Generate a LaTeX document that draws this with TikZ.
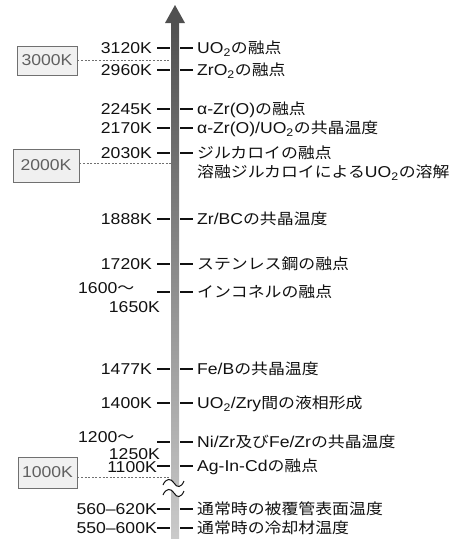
\documentclass[tikz,border=0pt]{standalone}
\usepackage{fontspec}
\usepackage{graphicx}
\setmainfont{Liberation Sans}
\newfontfamily\jp[Scale=0.96]{Noto Sans CJK JP}
\newcommand{\sx}[1]{\scalebox{1.12}[1]{#1}}
\newcommand{\J}[1]{{\jp #1}}
\definecolor{bartop}{HTML}{505050}
\definecolor{barmid}{HTML}{9A9A9A}
\definecolor{barbot}{HTML}{CACACA}
\definecolor{boxfill}{HTML}{F0F0F0}
\definecolor{boxline}{HTML}{707070}
\definecolor{boxtext}{HTML}{606060}
\definecolor{txt}{HTML}{111111}
\begin{document}
\begin{tikzpicture}[x=1pt,y=-1pt,
  lab/.style={font=\fontsize{15.7}{18}\selectfont, inner sep=0pt, text=txt},
  leftlab/.style={lab, anchor=base east},
  rightlab/.style={lab, anchor=base west},
  tickline/.style={line width=1.3pt, txt},
  valbox/.style={draw=boxline, fill=boxfill, line width=0.8pt, text=boxtext,
    font=\fontsize{15.7}{18}\selectfont, inner sep=0pt},
  dl/.style={draw=boxline, line width=0.7pt, dash pattern=on 2pt off 1.6pt}]
\useasboundingbox (0,0) rectangle (453,542);
% bar and arrow head
\shade[top color=bartop, middle color=barmid, bottom color=barbot] (171,23) rectangle (179,538);
\fill[bartop] (165,23) -- (175,5) -- (185,23) -- cycle;
% ticks
\foreach \y in {48,70,109,128,153,219,264,292,369,403,442,466,509,528}{
  \draw[tickline] (157,\y) -- (170,\y);
  \draw[tickline] (180,\y) -- (193,\y);
}
% left labels
\node[leftlab] (l3120) at (152,53.5) {\sx{3120K}};
\node[leftlab] (l2960) at (152,75.5) {\sx{2960K}};
\node[leftlab] (l2245) at (152,114.5) {\sx{2245K}};
\node[leftlab] (l2170) at (152,133.5) {\sx{2170K}};
\node[leftlab] (l2030) at (152,158.5) {\sx{2030K}};
\node[leftlab] (l1888) at (152,224.5) {\sx{1888K}};
\node[leftlab] (l1720) at (152,269.5) {\sx{1720K}};
\node[lab, anchor=base west] (l1600) at (78,293) {\sx{1600\J{～}}};
\node[leftlab] (l1650) at (160,312.5) {\sx{1650K}};
\node[leftlab] (l1477) at (152,374.5) {\sx{1477K}};
\node[leftlab] (l1400) at (152,408.5) {\sx{1400K}};
\node[lab, anchor=base west] (l1200) at (78,442) {\sx{1200\J{～}}};
\node[leftlab] (l1250) at (160,459) {\sx{1250K}};
\node[leftlab] (l1100) at (157,472.5) {\sx{1100K}};
\node[leftlab] (l560) at (157,514.5) {\sx{560–620K}};
\node[leftlab] (l550) at (157,533.5) {\sx{550–600K}};
% right labels
\node[rightlab] (r1) at (197,53.5) {\sx{UO\textsubscript{2}\J{の融点}}};
\node[rightlab] (r2) at (197,75.5) {\sx{ZrO\textsubscript{2}\J{の融点}}};
\node[rightlab] (r3) at (197,114.5) {\sx{α-Zr(O)\J{の融点}}};
\node[rightlab] (r4) at (197,133.5) {\sx{α-Zr(O)/UO\textsubscript{2}\J{の共晶温度}}};
\node[rightlab] (r5) at (197,158.5) {\sx{\J{ジルカロイの融点}}};
\node[rightlab] (r5b) at (197,177.5) {\sx{\J{溶融ジルカロイによる}UO\textsubscript{2}\J{の溶解}}};
\node[rightlab] (r6) at (197,224.5) {\sx{Zr/BC\J{の共晶温度}}};
\node[rightlab] (r7) at (197,269.5) {\sx{\J{ステンレス鋼の融点}}};
\node[rightlab] (r8) at (197,297.5) {\sx{\J{インコネルの融点}}};
\node[rightlab] (r9) at (197,374.5) {\sx{Fe/B\J{の共晶温度}}};
\node[rightlab] (r10) at (197,408.5) {\sx{UO\textsubscript{2}/Zry\J{間の液相形成}}};
\node[rightlab] (r11) at (197,447.5) {\sx{Ni/Zr\J{及び}Fe/Zr\J{の共晶温度}}};
\node[rightlab] (r12) at (197,471.5) {\sx{Ag-In-Cd\J{の融点}}};
\node[rightlab] (r13) at (197,514.5) {\sx{\J{通常時の被覆管表面温度}}};
\node[rightlab] (r14) at (197,533.5) {\sx{\J{通常時の冷却材温度}}};
% reference boxes and dashed lines
\node[valbox, minimum width=60pt, minimum height=29pt] (b3000) at (47,60.5) {\sx{3000K}};
\node[valbox, minimum width=66pt, minimum height=33pt] (b2000) at (46,165.5) {\sx{2000K}};
\node[valbox, minimum width=59pt, minimum height=31pt] (b1000) at (47.5,472.5) {\sx{1000K}};
\coordinate (d3000) at (171,60);
\coordinate (d2000) at (171,163);
\coordinate (d1000) at (171,477);
\draw[dl] (b3000.east |- d3000) -- (d3000);
\draw[dl] (b2000.east |- d2000) -- (d2000);
\draw[dl] (b1000.east |- d1000) -- (d1000);
% break mark
\fill[white] (163,485) .. controls (166,478) and (171,478) .. (174,483)
  .. controls (177,488) and (181,488) .. (184,481)
  -- (184,491) .. controls (181,498) and (177,498) .. (174,493)
  .. controls (171,488) and (166,488) .. (163,495) -- cycle;
\draw[line width=1pt, txt] (163,485) .. controls (166,478) and (171,478) .. (174,483)
  .. controls (177,488) and (181,488) .. (184,481);
\draw[line width=1pt, txt] (163,495) .. controls (166,488) and (171,488) .. (174,493)
  .. controls (177,498) and (181,498) .. (184,491);
\end{tikzpicture}
\end{document}
